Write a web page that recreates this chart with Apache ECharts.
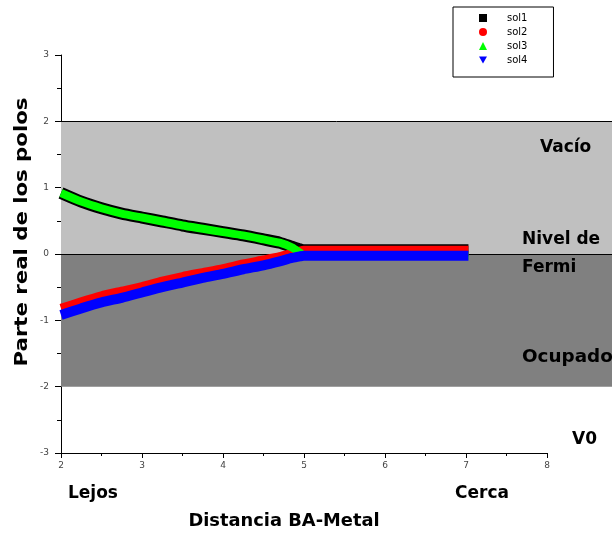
<!DOCTYPE html>
<html>
<head>
<meta charset="utf-8">
<script src="https://cdn.jsdelivr.net/npm/echarts@6/dist/echarts.min.js"></script>
<style>
html,body{margin:0;padding:0;background:#fff;}
#c{width:612px;height:536px;}
</style>
</head>
<body>
<div id="c"></div>
<script>
// ---- data ----
const xs = [2.0, 2.25, 2.5, 2.75, 3.0, 3.25, 3.5, 3.75, 4.0, 4.25, 4.5, 4.7, 4.85, 4.95, 5.0, 5.5, 6.0, 6.5, 7.03];
const sol1 = [0.92, 0.79, 0.69, 0.61, 0.55, 0.49, 0.43, 0.38, 0.33, 0.28, 0.22, 0.17, 0.11, 0.07, 0.055, 0.055, 0.055, 0.055, 0.055];
const sol2 = [-0.82, -0.72, -0.63, -0.56, -0.49, -0.41, -0.34, -0.28, -0.22, -0.15, -0.09, -0.04, 0.01, 0.045, 0.055, 0.055, 0.055, 0.055, 0.055];
const sol3 = [0.92, 0.79, 0.69, 0.61, 0.55, 0.49, 0.43, 0.38, 0.33, 0.28, 0.22, 0.17, 0.10, 0.02, -0.025, -0.025, -0.025, -0.025, -0.025];
const sol4 = [-0.92, -0.82, -0.73, -0.66, -0.58, -0.50, -0.43, -0.36, -0.30, -0.23, -0.17, -0.11, -0.06, -0.035, -0.025, -0.025, -0.025, -0.025, -0.025];
const seriesNames = ['sol1', 'sol2', 'sol3', 'sol4'];
const bandRanges = [[0, 2], [-2, 0]];
const levelLines = [2, 0];
const xTicks = [2, 3, 4, 5, 6, 7, 8];
const yTicks = [-3, -2, -1, 0, 1, 2, 3];

const toPairs = arr => xs.map((x, i) => [x, arr[i]]);

const chart = echarts.init(document.getElementById('c'), null, {renderer: 'canvas'});
const font = 'DejaVu Sans';

const styles = {
  sol1: {color: '#000000', width: 12, icon: 'rect'},
  sol2: {color: '#ff0000', width: 9, icon: 'circle'},
  sol3: {color: '#00ff00', width: 8, icon: 'triangle'},
  sol4: {color: '#0000ff', width: 10, icon: 'path://M0,0L10,0L5,9Z'}
};
const dataMap = {sol1, sol2, sol3, sol4};

const curveSeries = seriesNames.map(n => ({
  name: n,
  type: 'line',
  xAxisIndex: 1,
  yAxisIndex: 1,
  data: toPairs(dataMap[n]),
  showSymbol: false,
  symbol: styles[n].icon,
  smooth: 0.2,
  z: 5,
  color: styles[n].color,
  lineStyle: {color: styles[n].color, width: styles[n].width},
  itemStyle: {color: styles[n].color},
  animation: false
}));

const txt = (text, x, y, extra) => Object.assign({
  type: 'text', x: x, y: y, z: 100, zlevel: 1,
  style: {text: text, font: 'bold 17px "DejaVu Sans"', fill: '#000', align: 'left', verticalAlign: 'middle'}
}, extra || {});

const option = {
  animation: false,
  backgroundColor: '#ffffff',
  grid: [
    {left: 61, right: 0, top: 55, bottom: 83},
    {left: 61, right: 65, top: 55, bottom: 83}
  ],
  xAxis: [
    {gridIndex: 0, type: 'value', min: 2, max: 2 + 551 / 81, show: false},
    {gridIndex: 1, type: 'value', min: xTicks[0], max: xTicks[xTicks.length - 1], interval: 1,
     axisLine: {show: true, onZero: false, lineStyle: {color: '#000', width: 1}},
     axisTick: {show: true, length: 5, lineStyle: {color: '#000'}},
     minorTick: {show: true, splitNumber: 2, length: 3, lineStyle: {color: '#000'}},
     splitLine: {show: false},
     axisLabel: {color: '#444', fontSize: 9, fontFamily: font, margin: 8}}
  ],
  yAxis: [
    {gridIndex: 0, type: 'value', min: -3, max: 3, show: false},
    {gridIndex: 1, type: 'value', min: yTicks[0], max: yTicks[yTicks.length - 1], interval: 1,
     axisLine: {show: true, onZero: false, lineStyle: {color: '#000', width: 1}},
     axisTick: {show: true, length: 6, lineStyle: {color: '#000'}},
     minorTick: {show: true, splitNumber: 2, length: 4, lineStyle: {color: '#000'}},
     splitLine: {show: false},
     axisLabel: {color: '#444', fontSize: 9, fontFamily: font, margin: 12}}
  ],
  legend: {
    orient: 'vertical',
    left: 453,
    top: 7,
    backgroundColor: '#fff',
    borderColor: '#000',
    borderWidth: 1,
    borderRadius: 0,
    padding: [6, 26, 12, 26],
    itemWidth: 8,
    itemHeight: 8,
    itemGap: 4,
    textStyle: {fontSize: 10, lineHeight: 10, fontFamily: font, color: '#000', padding: [0, 0, 0, 15]},
    data: seriesNames.map(n => ({name: n, icon: styles[n].icon, itemStyle: {color: styles[n].color}}))
  },
  series: [
    {
      name: 'bands',
      type: 'line',
      xAxisIndex: 0,
      yAxisIndex: 0,
      data: [[2, 10]],
      showSymbol: false,
      lineStyle: {opacity: 0},
      z: 1,
      silent: true,
      markArea: {
        silent: true,
        data: bandRanges.map((r, i) => [
          {yAxis: r[1], itemStyle: {color: i === 0 ? '#c0c0c0' : '#808080', opacity: 1}},
          {yAxis: r[0]}
        ])
      },
      markLine: {
        silent: true,
        symbol: 'none',
        label: {show: false},
        lineStyle: {color: '#000', width: 1, type: 'solid'},
        data: levelLines.map(v => ({yAxis: v}))
      }
    }
  ].concat(curveSeries),
  graphic: [
    txt('Parte real de los polos', 22, 232, {rotation: Math.PI / 2, scaleX: 1.18,
      style: {text: 'Parte real de los polos', font: 'bold 18px "DejaVu Sans"', fill: '#000', align: 'center', verticalAlign: 'middle'}}),
    txt('Distancia BA-Metal', 284, 522, {scaleX: 1.05,
      style: {text: 'Distancia BA-Metal', font: 'bold 17px "DejaVu Sans"', fill: '#000', align: 'center', verticalAlign: 'middle'}}),
    txt('Lejos', 68, 494),
    txt('Cerca', 455, 494),
    txt('V0', 572, 440),
    txt('Vacío', 540, 148),
    txt('Nivel de', 522, 240),
    txt('Fermi', 522, 268),
    txt('Ocupado', 522, 358, {scaleX: 1.08})
  ]
};
chart.setOption(option);
</script>
</body>
</html>
